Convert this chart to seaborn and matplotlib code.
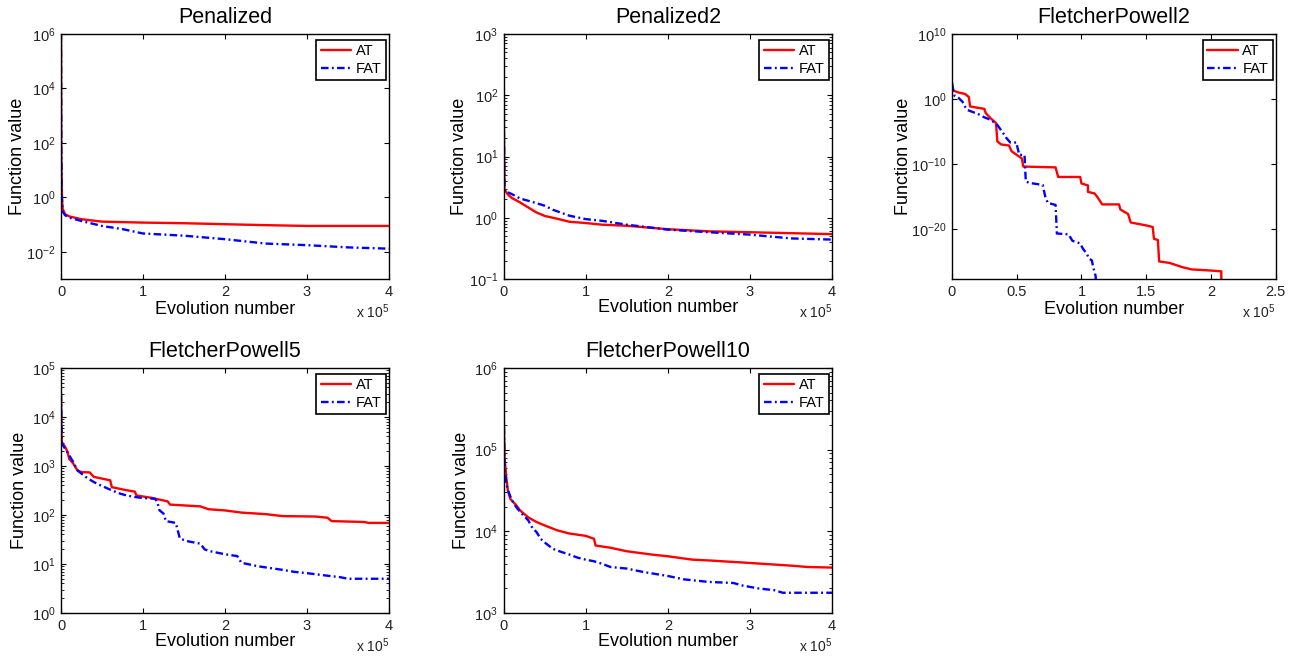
import matplotlib
matplotlib.use("Agg")
import matplotlib.pyplot as plt
import matplotlib.ticker as mticker
import seaborn as sns
import numpy as np

# ---------------- data ----------------
titles = ["Penalized", "Penalized2", "FletcherPowell2", "FletcherPowell5", "FletcherPowell10"]
series_labels = ["AT", "FAT"]

pen_at_x = [0, 300, 1200, 2000, 5000, 10000, 25000, 50000, 100000, 150000, 200000, 250000, 300000, 400000]
pen_at_y = [1e6, 50, 1.0, 0.38, 0.24, 0.20, 0.157, 0.128, 0.118, 0.112, 0.103, 0.095, 0.089, 0.089]
pen_fat_x = [0, 300, 1000, 2000, 5000, 10000, 27000, 50000, 75000, 100000, 150000, 200000, 250000, 300000, 350000, 400000]
pen_fat_y = [1e6, 60, 1.0, 0.30, 0.22, 0.18, 0.13, 0.089, 0.068, 0.047, 0.039, 0.029, 0.020, 0.0175, 0.0145, 0.013]

pen2_at_x = [0, 300, 1000, 5000, 10000, 20000, 30000, 40000, 50000, 60000, 70000, 80000, 100000, 120000, 150000, 200000, 250000, 300000, 350000, 400000]
pen2_at_y = [1000, 20, 2.9, 2.4, 2.1, 1.78, 1.47, 1.22, 1.07, 1.0, 0.93, 0.86, 0.82, 0.77, 0.74, 0.65, 0.60, 0.58, 0.56, 0.54]
pen2_fat_x = [0, 300, 1000, 10000, 20000, 30000, 40000, 50000, 60000, 80000, 100000, 120000, 150000, 200000, 250000, 300000, 350000, 400000]
pen2_fat_y = [1000, 25, 2.75, 2.43, 2.06, 1.89, 1.73, 1.57, 1.35, 1.08, 0.95, 0.89, 0.77, 0.64, 0.58, 0.53, 0.46, 0.44]

fp2_at_x = [0, 1000, 5000, 10000, 13000, 14000, 25000, 26000, 30000, 34000, 35000, 38000, 44000, 46000, 50000, 54000,
            55000, 80000, 82000, 99000, 100000, 105000, 105000, 110000, 112000, 116000, 129000, 130000, 136000, 138000,
            150000, 155000, 156000, 159000, 160000, 168000, 178000, 185000, 200000, 208000, 208000]
fp2_at_y = [3e2, 2e1, 1e1, 6, 2, 7e-2, 3e-2, 7e-3, 1e-3, 2e-4, 3e-7, 1e-7, 7e-8, 9e-9, 2.5e-9, 7e-10,
            4e-11, 3e-11, 1e-12, 1e-12, 1e-13, 5e-14, 5e-15, 3e-15, 1e-15, 6e-17, 6e-17, 1e-17, 2e-18, 1e-19,
            3.5e-20, 2e-20, 3e-22, 2e-22, 1e-25, 6e-26, 1.3e-26, 6e-27, 4e-27, 3e-27, 0]
fp2_fat_x = [0, 1000, 2000, 5000, 8000, 10000, 12000, 20000, 25000, 30000, 35000, 38000, 40000, 42000, 45000, 50000,
             50000, 52000, 56000, 57000, 60000, 70000, 72000, 74000, 80000, 81000, 90000, 93000, 99000, 101000,
             104000, 106000, 108000, 109000, 111000, 112000]
fp2_fat_y = [2e2, 2e1, 3, 1.5, 0.4, 7e-2, 2e-2, 5e-3, 1.5e-3, 6e-4, 1e-4, 1.5e-5, 4e-6, 1e-6, 2e-7, 2e-7,
             1e-7, 2.5e-9, 2.5e-9, 2e-13, 1.2e-13, 6e-14, 1e-15, 1e-16, 5e-17, 2e-21, 1.5e-21, 1.5e-22, 6e-23, 1e-23,
             1.6e-24, 2.5e-25, 1.5e-25, 1.5e-26, 5e-28, 0]

fp5_at_x = [0, 500, 1000, 5000, 8000, 10000, 15000, 20000, 25000, 35000, 40000, 60000, 62000, 80000, 90000, 92000,
            110000, 115000, 130000, 133000, 170000, 180000, 200000, 220000, 250000, 270000, 310000, 325000, 330000,
            370000, 375000, 400000]
fp5_at_y = [3e4, 5400, 3100, 2450, 1950, 1400, 1120, 815, 750, 740, 600, 510, 370, 320, 300, 250,
            225, 215, 190, 163, 150, 131, 124, 112, 104, 95, 93, 88, 75, 72, 69, 69]
fp5_fat_x = [0, 1000, 5000, 10000, 15000, 20000, 30000, 40000, 50000, 60000, 70000, 80000, 90000, 100000, 115000,
             118000, 120000, 125000, 128000, 140000, 145000, 155000, 170000, 175000, 180000, 200000, 215000, 220000,
             240000, 270000, 285000, 300000, 320000, 340000, 350000, 400000]
fp5_fat_y = [3e4, 2900, 2250, 1650, 1200, 815, 600, 470, 390, 330, 280, 250, 233, 222, 214,
             170, 125, 107, 75, 69, 33, 29, 26, 20, 18.5, 15.8, 14.5, 10.6,
             9.0, 7.6, 6.9, 6.5, 5.9, 5.4, 5.0, 5.0]

fp10_at_x = [0, 500, 1000, 3000, 5000, 8000, 15000, 20000, 30000, 40000, 50000, 65000, 80000, 100000, 110000, 112000,
             130000, 150000, 180000, 200000, 230000, 250000, 300000, 350000, 370000, 400000]
fp10_at_y = [2.8e5, 1.45e5, 8.1e4, 4.7e4, 3.2e4, 2.5e4, 2.1e4, 1.8e4, 1.48e4, 1.3e4, 1.18e4, 1.03e4, 9.4e3, 8.8e3, 8.1e3, 6.7e3,
             6.3e3, 5.7e3, 5.2e3, 4.95e3, 4.5e3, 4.4e3, 4.1e3, 3.8e3, 3.66e3, 3.6e3]
fp10_fat_x = [0, 1000, 3000, 5000, 10000, 15000, 20000, 30000, 35000, 40000, 45000, 50000, 60000, 70000, 80000, 90000,
              100000, 110000, 120000, 130000, 150000, 170000, 200000, 220000, 250000, 280000, 290000, 310000, 330000,
              340000, 400000]
fp10_fat_y = [3e5, 6.7e4, 4e4, 3.2e4, 2.4e4, 2e4, 1.73e4, 1.36e4, 1.1e4, 9.8e3, 8.1e3, 7.3e3, 6.1e3, 5.6e3, 5.2e3, 4.76e3,
              4.5e3, 4.3e3, 4.0e3, 3.66e3, 3.5e3, 3.18e3, 2.84e3, 2.58e3, 2.4e3, 2.33e3, 2.18e3, 2.0e3, 1.9e3,
              1.77e3, 1.77e3]

panels = [
    (pen_at_x, pen_at_y, pen_fat_x, pen_fat_y),
    (pen2_at_x, pen2_at_y, pen2_fat_x, pen2_fat_y),
    (fp2_at_x, fp2_at_y, fp2_fat_x, fp2_fat_y),
    (fp5_at_x, fp5_at_y, fp5_fat_x, fp5_fat_y),
    (fp10_at_x, fp10_at_y, fp10_fat_x, fp10_fat_y),
]
ylims = [(1e-3, 1e6), (1e-1, 1e3), (10 ** -27.7, 1e10), (1e0, 1e5), (1e3, 1e6)]
yticks = [[1e-2, 1e0, 1e2, 1e4, 1e6], [1e-1, 1e0, 1e1, 1e2, 1e3], [1e-20, 1e-10, 1e0, 1e10],
          [1e0, 1e1, 1e2, 1e3, 1e4, 1e5], [1e3, 1e4, 1e5, 1e6]]
minor_on = [False, True, False, True, True]
xmaxs = [4e5, 4e5, 2.5e5, 4e5, 4e5]
xticks = [[0, 1e5, 2e5, 3e5, 4e5], [0, 1e5, 2e5, 3e5, 4e5], [0, 0.5e5, 1e5, 1.5e5, 2e5, 2.5e5],
          [0, 1e5, 2e5, 3e5, 4e5], [0, 1e5, 2e5, 3e5, 4e5]]

# ---------------- style ----------------
sns.set_style("ticks")
plt.rcParams["font.family"] = ["Liberation Sans", "DejaVu Sans"]
plt.rcParams["mathtext.fontset"] = "custom"
plt.rcParams["mathtext.rm"] = "Liberation Sans"
plt.rcParams["mathtext.it"] = "Liberation Sans:italic"
plt.rcParams["mathtext.bf"] = "Liberation Sans:bold"
plt.rcParams["axes.unicode_minus"] = False
plt.rcParams["xtick.direction"] = "in"
plt.rcParams["ytick.direction"] = "in"
plt.rcParams["axes.edgecolor"] = "black"
plt.rcParams["axes.linewidth"] = 1.0
plt.rcParams["text.color"] = "black"
plt.rcParams["axes.labelcolor"] = "black"
plt.rcParams["axes.titlecolor"] = "black"
plt.rcParams["xtick.color"] = "black"
plt.rcParams["ytick.color"] = "black"
plt.rcParams["xtick.labelcolor"] = "#222222"
plt.rcParams["ytick.labelcolor"] = "#222222"

fig = plt.figure(figsize=(12.95, 6.59), dpi=100)

W, H = 1295.0, 659.0
lefts = [61, 503.7, 952, 61, 503.7]
rights = [389, 832, 1275.7, 389, 832]
tops = [34, 34, 34, 368, 368]
bottoms = [279, 279, 279, 613, 613]
ylabel_off = [44, 44.7, 49, 42, 41.7]
xlabel_off = [30, 29, 30, 28.7, 28.7]

dashdot = (0, (3.2, 1.4, 0.8, 1.4))

for i in range(5):
    l, r, t, b = lefts[i], rights[i], tops[i], bottoms[i]
    aw, ah = r - l, b - t
    ax = fig.add_axes([l / W, 1 - b / H, aw / W, ah / H])
    ax_x, ax_y, fx, fy = panels[i]
    sns.lineplot(x=ax_x, y=ax_y, ax=ax, color="#ff0000", lw=1.7, estimator=None, sort=False, label=series_labels[0])
    sns.lineplot(x=fx, y=fy, ax=ax, color="#0000ff", lw=1.7, estimator=None, sort=False, label=series_labels[1],
                 linestyle=dashdot)
    ax.set_yscale("log", nonpositive="clip")
    ax.set_ylim(*ylims[i])
    ax.set_xlim(0, xmaxs[i])
    ax.set_xticks(xticks[i])
    ax.xaxis.set_major_formatter(mticker.FuncFormatter(lambda v, p: "%g" % (v / 1e5)))
    ax.yaxis.set_major_locator(mticker.FixedLocator(yticks[i]))
    ax.yaxis.set_major_formatter(mticker.LogFormatterSciNotation())
    if minor_on[i]:
        ax.yaxis.set_minor_locator(mticker.LogLocator(base=10, subs=np.arange(2, 10), numticks=50))
    else:
        ax.yaxis.set_minor_locator(mticker.NullLocator())
    ax.yaxis.set_minor_formatter(mticker.NullFormatter())
    ax.xaxis.set_minor_locator(mticker.NullLocator())
    ax.tick_params(which="major", length=3.5, width=0.8, top=True, right=True, labelsize=10.5, pad=4)
    ax.tick_params(which="minor", length=2, width=0.6, left=True, right=True)
    for s in ax.spines.values():
        s.set_visible(True)
        s.set_color("black")
    ax.set_title(titles[i], fontsize=15.5, pad=8, color="black")
    ax.set_xlabel("Evolution number", fontsize=13, color="black")
    ax.set_ylabel("Function value", fontsize=13, color="black")
    ax.xaxis.set_label_coords(0.5, -xlabel_off[i] / ah)
    ax.xaxis.label.set_verticalalignment("center")
    ax.yaxis.set_label_coords(-ylabel_off[i] / aw, 0.5)
    ax.yaxis.label.set_verticalalignment("center")
    ax.text(1.0, -0.095, r"x 10$^5$", transform=ax.transAxes, ha="right", va="top", fontsize=10, color="#222222")
    leg = ax.legend(loc="upper right", bbox_to_anchor=(1 - 3.0 / aw, 1 - 6.0 / ah), borderaxespad=0,
                    fontsize=10.5, frameon=True, fancybox=False, framealpha=1,
                    edgecolor="black", handlelength=2.1, handletextpad=0.3,
                    borderpad=0.3, labelspacing=0.25)
    leg.get_frame().set_linewidth(1.2)
    for txt in leg.get_texts():
        txt.set_color("black")

fig.savefig("out.png", dpi=100)
